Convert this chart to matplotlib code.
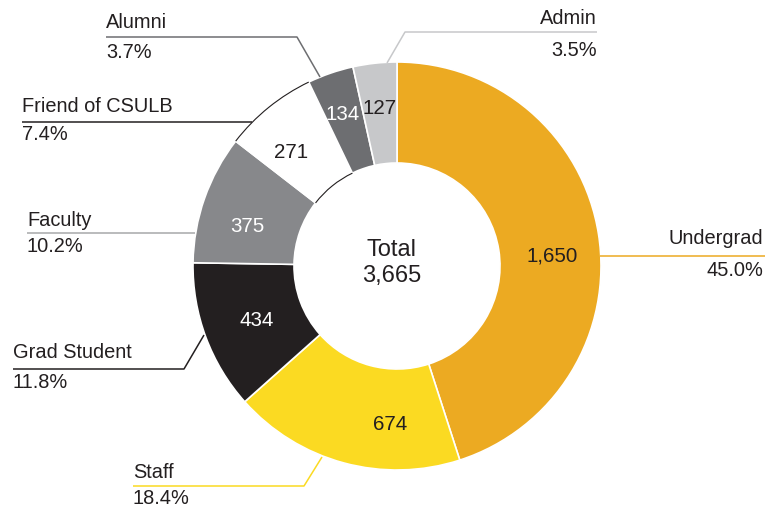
import matplotlib.pyplot as plt
from matplotlib.patches import Arc

plt.rcParams['font.family'] = ['Liberation Sans', 'DejaVu Sans']

# data
categories = ['Undergrad', 'Staff', 'Grad Student', 'Faculty',
              'Friend of CSULB', 'Alumni', 'Admin']
counts = [1650, 674, 434, 375, 271, 134, 127]
percents = ['45.0%', '18.4%', '11.8%', '10.2%', '7.4%', '3.7%', '3.5%']
total_label = '3,665'

colors = ['#ECAA22', '#FBDA22', '#231F20', '#87888B', '#FFFFFF', '#6D6E71', '#C7C8CA']
value_colors = ['#231F20', '#231F20', 'white', 'white', '#231F20', 'white', '#231F20']
line_colors = ['#ECAA22', '#FBDA22', '#231F20', '#A7A8AA', '#231F20', '#6D6E71', '#C7C8CA']
TEXT = '#231F20'

W, H = 778, 508
cx, cy = 397, 266
R_OUT, R_IN = 204, 103


def Y(y):
    # picture coords (top origin) -> axes coords
    return H - y


fig = plt.figure(figsize=(W / 100, H / 100), dpi=100)
ax = fig.add_axes([0, 0, 1, 1])

wedges, _ = ax.pie(counts, colors=colors, startangle=90, counterclock=False,
                   radius=R_OUT, center=(cx, Y(cy)),
                   wedgeprops=dict(width=R_OUT - R_IN, edgecolor='white', linewidth=1.2))

# thin outline on the white slice arcs
fw = wedges[categories.index('Friend of CSULB')]
for r in (R_OUT, R_IN):
    ax.add_patch(Arc((cx, Y(cy)), 2 * r, 2 * r, theta1=fw.theta1, theta2=fw.theta2,
                     color=TEXT, lw=0.8))

ax.set_xlim(0, W)
ax.set_ylim(0, H)
ax.set_aspect('equal')
ax.axis('off')

# value labels inside the ring
value_pos = [(552, 256), (390, 424), (257, 320), (247, 227),
             (291, 152), (343, 115), (380, 108)]
for v, (x, y), c in zip(counts, value_pos, value_colors):
    ax.text(x, Y(y), f'{v:,}', color=c, fontsize=14.8, ha='center', va='center')

ax.text(cx - 5, Y(250), 'Total', fontsize=17, color=TEXT, ha='center', va='center')
ax.text(cx - 5, Y(276), total_label, fontsize=17, color=TEXT, ha='center', va='center')

# leader lines: polyline points, text x, alignment, name y, pct y
leaders = [
    ([(600, 256), (765, 256)], 763, 'right', 238, 271),
    ([(322, 457), (304, 486), (133, 486)], 133, 'left', 472, 498),
    ([(204, 335), (184, 369), (13, 369)], 13, 'left', 353, 382),
    ([(195, 233), (27, 233)], 27, 'left', 220, 247),
    ([(252, 122), (22, 122)], 22, 'left', 107, 135),
    ([(320, 77), (297, 37), (106, 37)], 106, 'left', 23, 52),
    ([(387, 63), (405, 32), (597, 32)], 597, 'right', 18, 50),
]

for (pts, tx, ha, ny, py), name, pct, lc in zip(leaders, categories, percents, line_colors):
    xs = [p[0] for p in pts]
    ys = [Y(p[1]) for p in pts]
    ax.plot(xs, ys, color=lc, lw=1.1, solid_capstyle='butt')
    ax.text(tx, Y(ny), name, fontsize=14.4, color=TEXT, ha=ha, va='center')
    ax.text(tx, Y(py), pct, fontsize=14.4, color=TEXT, ha=ha, va='center')

fig.savefig('out.png', dpi=100, facecolor='white')
